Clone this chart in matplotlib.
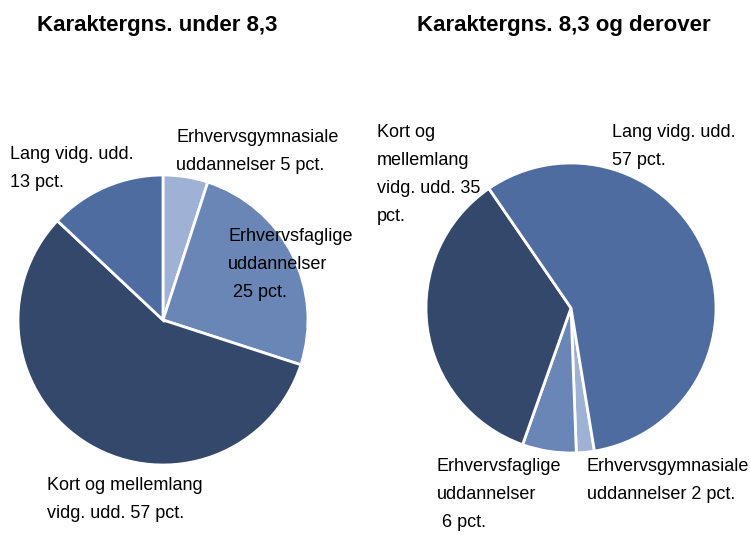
import matplotlib.pyplot as plt

plt.rcParams['font.family'] = ['Liberation Sans', 'DejaVu Sans']

# order: Erhvervsgymnasiale, Erhvervsfaglige, Kort og mellemlang, Lang vidg.
farver = ['#9fb2d6', '#6a86b6', '#34486b', '#4e6ca0']
under = [5, 25, 57, 13]
over = [2, 6, 35, 57]

titler = ['Karaktergns. under 8,3', 'Karaktergns. 8,3 og derover']

labels_under = ['Erhvervsgymnasiale\nuddannelser 5 pct.',
                'Erhvervsfaglige\nuddannelser\n 25 pct.',
                'Kort og mellemlang\nvidg. udd. 57 pct.',
                'Lang vidg. udd.\n13 pct.']
labels_over = ['Erhvervsgymnasiale\nuddannelser 2 pct.',
               'Erhvervsfaglige\nuddannelser\n 6 pct.',
               'Kort og\nmellemlang\nvidg. udd. 35\npct.',
               'Lang vidg. udd.\n57 pct.']

W, H = 750, 535
fig = plt.figure(figsize=(7.5, 5.35), dpi=100)

def px_ax(cx, cy, r):
    return fig.add_axes([(cx - r) / W, (H - cy - r) / H, 2 * r / W, 2 * r / H])

ax1 = px_ax(163, 320, 145)
ax1.pie(under, colors=farver, startangle=90, counterclock=False,
        wedgeprops=dict(edgecolor='white', linewidth=2))

ax2 = px_ax(571, 308, 145)
ax2.pie(over, colors=farver, startangle=-80.7, counterclock=False,
        wedgeprops=dict(edgecolor='white', linewidth=2))

for ax in (ax1, ax2):
    ax.set_xlim(-1, 1)
    ax.set_ylim(-1, 1)
    ax.set_aspect('equal')

fs = 13
def lab(x, y, s):
    fig.text(x / W, 1 - y / H, s, fontsize=fs, ha='left', va='top', linespacing=1.85)

lab(176, 129, labels_under[0])
lab(228, 228, labels_under[1])
lab(47, 477, labels_under[2])
lab(10, 146, labels_under[3])

lab(587, 458, labels_over[0])
lab(437, 458, labels_over[1])
lab(377, 124, labels_over[2])
lab(612, 124, labels_over[3])

fig.text(37 / W, 1 - 25 / H, titler[0], fontsize=16, fontweight='bold', va='center')
fig.text(417 / W, 1 - 25 / H, titler[1], fontsize=16, fontweight='bold', va='center')

fig.savefig('out.png', dpi=100)
